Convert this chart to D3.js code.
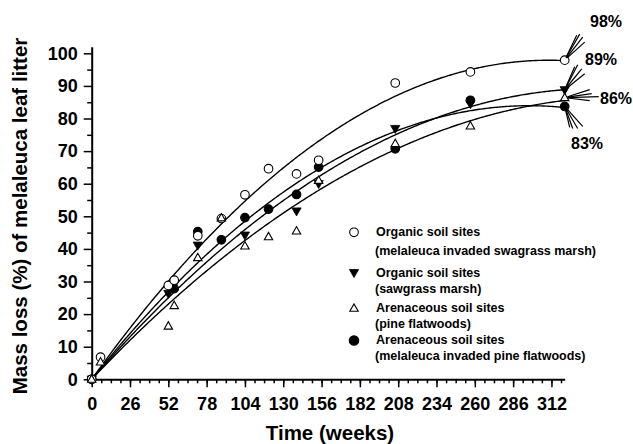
<!DOCTYPE html>
<html><head><meta charset="utf-8">
<script src="https://cdn.jsdelivr.net/npm/d3@7"></script>
<style>
body{margin:0;background:#fff;}
text{font-family:"Liberation Sans",Arial,sans-serif;font-weight:bold;fill:#000;}
</style></head>
<body>
<script>
// ---------- data ----------
const xTicks = [0,26,52,78,104,130,156,182,208,234,260,286,312];
const yTicks = [0,10,20,30,40,50,60,70,80,90,100];

// Organic soil sites (melaleuca invaded sawgrass marsh) - open circles
const weeksOC = [0,6,52,56,72,88,104,120,139,154,206,257,321];
const lossOC  = [0,6.8,28.8,30.4,44.0,49.3,56.6,64.6,63.0,67.2,90.9,94.3,97.9];
// Organic soil sites (sawgrass marsh) - filled triangles
const weeksFT = [0,52,56,72,104,139,154,206,257,321];
const lossFT  = [0,26.3,29.0,41.1,44.2,51.6,60.0,76.9,84.5,88.8];
// Arenaceous soil sites (pine flatwoods) - open triangles
const weeksOT = [0,6,52,56,72,88,104,120,139,154,206,257,321];
const lossOT  = [0,5.3,16.3,22.6,37.3,49.5,40.9,43.7,45.5,61.0,72.3,77.7,86.4];
// Arenaceous soil sites (melaleuca invaded pine flatwoods) - filled circles
const weeksFC = [0,56,72,88,104,120,139,154,206,257,321];
const lossFC  = [0,27.8,45.3,42.8,49.6,52.2,56.7,65.1,70.7,85.6,83.7];

const finalLabels = ["98%","89%","86%","83%"];
const legendLabels = [
  ["Organic soil sites","(melaleuca invaded swagrass marsh)"],
  ["Organic soil sites","(sawgrass marsh)"],
  ["Arenaceous soil sites","(pine flatwoods)"],
  ["Arenaceous soil  sites","(melaleuca invaded pine flatwoods)"]
];

// ---------- chart ----------
const W=633,H=444;
const svg=d3.select("body").append("svg").attr("width",W).attr("height",H);
const x=d3.scaleLinear().domain([0,321]).range([91.7,564.7]);
const y=d3.scaleLinear().domain([0,102]).range([379.3,46.8]);

// axes
const xMinor=d3.range(0,321,6.5);
svg.append("g").attr("transform",`translate(0,${y(0)})`)
  .call(d3.axisBottom(x).tickValues(xMinor).tickSize(4).tickFormat("").tickSizeOuter(0))
  .call(g=>g.select(".domain").remove())
  .call(g=>g.selectAll("line").attr("stroke","#000").attr("stroke-width",1.5));
const gx=svg.append("g").attr("transform",`translate(0,${y(0)})`)
  .call(d3.axisBottom(x).tickValues(xTicks).tickSize(8).tickPadding(10).tickSizeOuter(0));
gx.selectAll("line").attr("stroke","#000").attr("stroke-width",1.5);
gx.select(".domain").attr("stroke","#000").attr("stroke-width",2);
gx.selectAll("text").attr("font-size",18).attr("font-family",null);

svg.append("g").attr("transform",`translate(${x(0)},0)`)
  .call(d3.axisLeft(y).tickValues(d3.range(5,101,10)).tickSize(4.5).tickFormat("").tickSizeOuter(0))
  .call(g=>g.select(".domain").remove())
  .call(g=>g.selectAll("line").attr("stroke","#000").attr("stroke-width",1.5));
const gy=svg.append("g").attr("transform",`translate(${x(0)},0)`)
  .call(d3.axisLeft(y).tickValues(yTicks).tickSize(8).tickPadding(6).tickSizeOuter(0));
gy.selectAll("line").attr("stroke","#000").attr("stroke-width",1.5);
gy.select(".domain").attr("stroke","#000").attr("stroke-width",2);
gy.selectAll("text").attr("font-size",18).attr("font-family",null);

// titles
svg.append("text").attr("x",330).attr("y",440).attr("text-anchor","middle")
  .attr("font-size",20.5).text("Time (weeks)");
svg.append("text").attr("transform","translate(27,216) rotate(-90)")
  .attr("text-anchor","middle").attr("font-size",20.5)
  .text("Mass loss (%) of melaleuca leaf litter");

// least-squares fit y = a t + b t^2 through origin
function fit(ts,vs){
  let s11=0,s12=0,s22=0,r1=0,r2=0;
  ts.forEach((t,i)=>{const v=vs[i];s11+=t*t;s12+=t*t*t;s22+=t*t*t*t;r1+=t*v;r2+=t*t*v;});
  const det=s11*s22-s12*s12;
  const a=(r1*s22-r2*s12)/det, b=(s11*r2-s12*r1)/det;
  return t=>a*t+b*t*t;
}
const series=[
  {w:weeksOC,v:lossOC,type:"oc"},
  {w:weeksFT,v:lossFT,type:"ft"},
  {w:weeksOT,v:lossOT,type:"ot"},
  {w:weeksFC,v:lossFC,type:"fc"}
];
const line=d3.line().x(d=>x(d[0])).y(d=>y(d[1]));
series.forEach(s=>{
  const f=fit(s.w,s.v);
  const tmax=d3.max(s.w);
  const pts=d3.range(0,tmax+0.5,1).map(t=>[t,f(t)]);
  svg.append("path").attr("d",line(pts)).attr("fill","none")
    .attr("stroke","#000").attr("stroke-width",1.4);
});

// markers
function marker(g,type,cx,cy,big){
  const k=big?1.1:1;
  if(type==="oc"||type==="fc"){
    g.append("circle").attr("cx",cx).attr("cy",cy).attr("r",4.3*k)
      .attr("fill",type==="fc"?"#000":"#fff").attr("stroke","#000").attr("stroke-width",1.1);
  } else if(type==="ft"){
    const hw=4.6*k,h=8*k;
    g.append("path").attr("d",`M${cx-hw},${cy-h*0.4}L${cx+hw},${cy-h*0.4}L${cx},${cy+h*0.6}Z`)
      .attr("fill","#000").attr("stroke","#000").attr("stroke-width",0.8);
  } else {
    const hw=4.2*k,h=7.4*k;
    g.append("path").attr("d",`M${cx-hw},${cy+h*0.4}L${cx+hw},${cy+h*0.4}L${cx},${cy-h*0.6}Z`)
      .attr("fill","#fff").attr("stroke","#000").attr("stroke-width",1.1);
  }
}
const mg=svg.append("g");
["fc","ft","oc","ot"].forEach(tp=>{
  const s=series.find(d=>d.type===tp);
  s.w.forEach((t,i)=>marker(mg,tp,x(t),y(s.v[i])));
});

// final-value annotations with fan lines
const fans=[
  {s:0,lbl:[590,27],ends:[[12,-25],[15,-26],[18,-23],[20,-18]]},
  {s:1,lbl:[585,65],ends:[[10,-23],[13,-25],[17,-21],[20,-16]]},
  {s:2,lbl:[600,103.5],ends:[[25,-8],[27,-4],[34,-1],[25,3]]},
  {s:3,lbl:[571,148.5],ends:[[5,21],[8,22],[13,22],[18,20]]}
];
fans.forEach((f,i)=>{
  const s=series[f.s];
  const n=s.w.length-1;
  const cx=x(s.w[n]),cy=y(s.v[n]);
  f.ends.forEach(e=>{
    const L=Math.hypot(e[0],e[1]);
    svg.append("line").attr("x1",cx+e[0]/L*3).attr("y1",cy+e[1]/L*3)
      .attr("x2",cx+e[0]).attr("y2",cy+e[1]).attr("stroke","#000").attr("stroke-width",1.2);
  });
  svg.append("text").attr("x",f.lbl[0]).attr("y",f.lbl[1]).attr("font-size",16).text(finalLabels[i]);
});

// legend
const legY=[[232.3,236,255],[272.7,276.7,292.7],[308.3,312.3,327.7],[340.5,344.3,360]];
const legTypes=["oc","ft","ot","fc"];
legendLabels.forEach((lab,i)=>{
  marker(svg,legTypes[i],354,legY[i][0],i===3);
  svg.append("text").attr("x",376).attr("y",legY[i][1]).attr("font-size",12.5).text(lab[0]);
  svg.append("text").attr("x",375).attr("y",legY[i][2]).attr("font-size",12.5).text(lab[1]);
});
</script>
</body></html>
